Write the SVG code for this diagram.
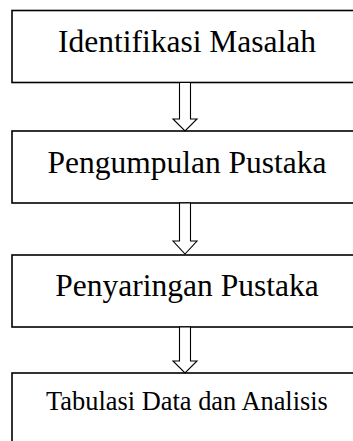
<svg xmlns="http://www.w3.org/2000/svg" width="353" height="441" viewBox="0 0 353 441">
<style>
.box{fill:#fff;stroke:#000;stroke-width:1.6}
.arr{fill:#fff;stroke:#000;stroke-width:1.1;stroke-linejoin:miter}
.t{font-family:"Liberation Serif","Times New Roman",serif;fill:#000;text-anchor:middle}
</style>
<rect width="353" height="441" fill="#fff"/>
<g id="node1"><rect class="box" x="12" y="10.5" width="360" height="72"/><text class="t" x="187" y="52" font-size="31.5">Identifikasi Masalah</text></g>
<g id="node2"><rect class="box" x="12" y="131" width="360" height="72"/><text class="t" x="187" y="173" font-size="31.5">Pengumpulan Pustaka</text></g>
<g id="node3"><rect class="box" x="12" y="255" width="360" height="72"/><text class="t" x="187" y="296" font-size="31.5">Penyaringan Pustaka</text></g>
<g id="node4"><rect class="box" x="12" y="373" width="360" height="80"/><text class="t" x="187" y="410" font-size="26.4">Tabulasi Data dan Analisis</text></g>
<g id="connectors">
<polygon class="arr" points="179.5,82.5 190.5,82.5 190.5,119 197,119 185,131 173,119 179.5,119"/>
<polygon class="arr" points="179.5,203 190.5,203 190.5,241 197,241 185,254 173,241 179.5,241"/>
<polygon class="arr" points="179.5,327 190.5,327 190.5,361 197,361 185,373 173,361 179.5,361"/>
</g>
</svg>
